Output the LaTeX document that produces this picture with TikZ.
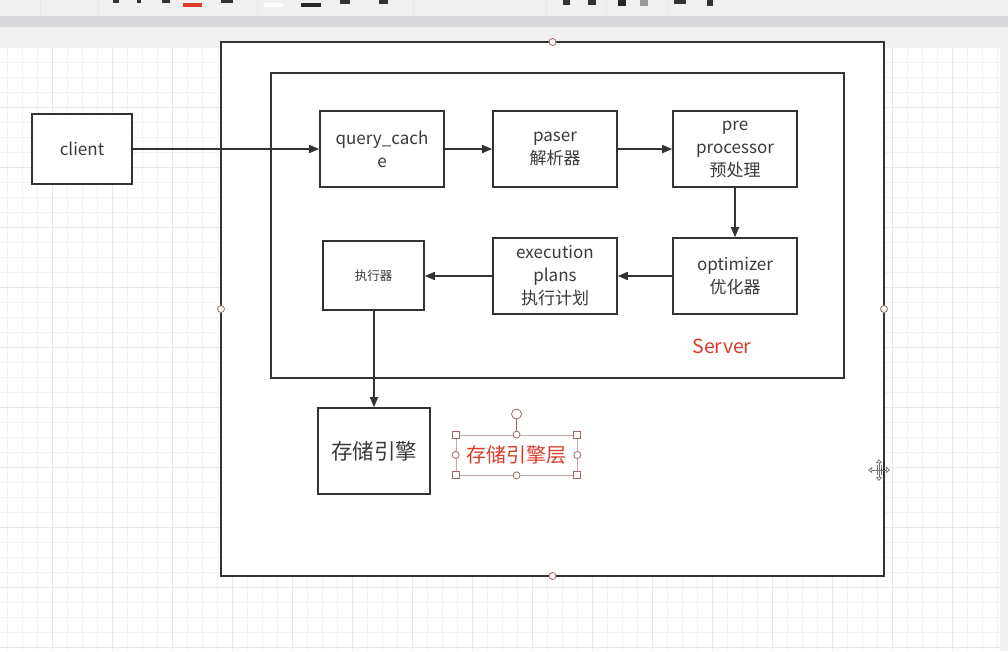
\documentclass[tikz,border=0pt]{standalone}
\usepackage{fontspec}
\setmainfont{Noto Sans CJK SC}
\usetikzlibrary{arrows.meta}
\definecolor{txt}{HTML}{3A3A3A}
\definecolor{edge}{HTML}{333333}
\definecolor{redlbl}{HTML}{DC3B2A}
\definecolor{hdl}{HTML}{9C6B64}
\definecolor{selb}{HTML}{C9A9A5}
\definecolor{gminor}{HTML}{F2F2F2}
\definecolor{gmajor}{HTML}{E7E7E7}
\definecolor{tbar}{HTML}{F0F0F0}
\definecolor{tband}{HTML}{D9D9DC}
\begin{document}
\begin{tikzpicture}[x=1pt,y=-1pt,
  box/.style={draw=edge, line width=1.6pt, fill=white, inner sep=0pt, text=txt, align=center,
    font=\fontsize{17}{23}\selectfont},
  frame/.style={draw=edge, line width=1.6pt, fill=white},
  conn/.style={draw=edge, line width=1.6pt, -{Triangle[length=10pt,width=8pt]}},
  hcirc/.style={circle, draw=hdl, fill=white, line width=0.8pt, minimum size=7pt, inner sep=0pt},
  hsq/.style={rectangle, draw=hdl, fill=white, line width=0.8pt, minimum size=7pt, inner sep=0pt}
]
\useasboundingbox (0,0) rectangle (1008,651);
% editor background
\fill[white] (0,0) rectangle (1008,651);
\fill[tbar] (0,0) rectangle (1008,16);
\fill[tband] (0,16) rectangle (1008,27);
\fill[tbar] (0,27) rectangle (1008,47);
\fill[tbar] (1000,47) rectangle (1008,651);
% toolbar bits
\foreach \sx in {40,98,257,413,546,606,668} {\draw[gmajor, line width=0.8pt] (\sx,0) -- (\sx,15);}
\fill[redlbl] (183,3) rectangle (202,7);
\fill[white] (264,3) rectangle (283,7);
\fill[black!85] (301,3) rectangle (321,7);
\fill[black!80] (113,0) rectangle (119,3);
\fill[black!80] (137,0) rectangle (141,3);
\fill[black!80] (162,0) rectangle (170,3);
\fill[black!80] (221,0) rectangle (233,3);
\fill[black!80] (340,0) rectangle (350,4);
\fill[black!80] (379,0) rectangle (388,4);
\fill[black!80] (563,0) rectangle (570,5);
\fill[black!80] (588,0) rectangle (596,5);
\fill[black!85] (618,0) rectangle (626,6);
\fill[black!40] (640,0) rectangle (648,6);
\fill[black!80] (674,0) rectangle (686,4);
\fill[black!80] (707,0) rectangle (713,6);
% grid
\foreach \k in {0,...,66} {\draw[gminor, line width=0.8pt] (7+15*\k,47) -- (7+15*\k,651);}
\foreach \k in {0,...,40} {\draw[gminor, line width=0.8pt] (0,47+15*\k) -- (1000,47+15*\k);}
\foreach \k in {0,...,15} {\draw[gmajor, line width=0.8pt] (52+60*\k,47) -- (52+60*\k,651);}
\foreach \k in {0,...,9} {\draw[gmajor, line width=0.8pt] (0,107+60*\k) -- (1000,107+60*\k);}

% frames
\draw[frame] (221,42) rectangle (884,576);
\draw[frame] (271,73) rectangle (844,378);

% nodes
\node[box, minimum width=100pt, minimum height=70pt] (client) at (82,149) {client};
\node[box, minimum width=124pt, minimum height=76pt] (qc) at (382,149) {query\_cach\\e};
\node[box, minimum width=124pt, minimum height=76pt] (paser) at (555,149) {paser\\解析器};
\node[box, minimum width=124pt, minimum height=76pt] (pre) at (735,149) {pre\\processor\\预处理};
\node[box, minimum width=124pt, minimum height=76pt] (opt) at (735,276) {optimizer\\优化器};
\node[box, minimum width=124pt, minimum height=76pt] (exe) at (555,276) {execution\\plans\\执行计划};
\node[box, minimum width=101pt, minimum height=69pt, font=\fontsize{12.5}{15}\selectfont] (zxq) at (373.5,275.5) {执行器};
\node[box, minimum width=112pt, minimum height=86pt, font=\fontsize{21.5}{25}\selectfont] (store) at (374,451) {存储引擎};
\node[text=redlbl, font=\fontsize{19.5}{23}\selectfont, inner sep=0pt] (server) at (722,346) {Server};

% connectors
\draw[conn] (client.east) -- (qc.west);
\draw[conn] (qc.east) -- (paser.west);
\draw[conn] (paser.east) -- (pre.west);
\draw[conn] (pre.south) -- (opt.north);
\draw[conn] (opt.west) -- (exe.west -| exe.east);
\draw[conn] (exe.west) -- (zxq.east |- exe.west);
\draw[conn] (zxq.south -| store.north) -- (store.north);

% selected text box
\node[draw=selb, line width=0.7pt, minimum width=121pt, minimum height=40pt, inner sep=0pt,
  text=redlbl, font=\fontsize{20}{23}\selectfont] (layer) at (516.5,455) {存储引擎层};
\coordinate (rot) at (516.5,414);
\draw[hdl, line width=0.8pt] (layer.north) -- (rot);
\node[hcirc, minimum size=10pt] (rotH) at (rot) {};
\node[hsq] (h1) at (layer.north west) {};
\node[hsq] (h2) at (layer.north east) {};
\node[hsq] (h3) at (layer.south west) {};
\node[hsq] (h4) at (layer.south east) {};
\node[hcirc] (h5) at (layer.north) {};
\node[hcirc] (h6) at (layer.south) {};
\node[hcirc] (h7) at (layer.west) {};
\node[hcirc] (h8) at (layer.east) {};

% outer frame handles
\node[hcirc] (o1) at (552.5,42) {};
\node[hcirc] (o2) at (552.5,576) {};
\node[hcirc] (o3) at (221,309) {};
\node[hcirc] (o4) at (884,309) {};

% move cursor
\coordinate (mc) at (879,470);
\draw[black!55, fill=white, line width=0.7pt, {Triangle[open,length=4pt,width=6pt]}-{Triangle[open,length=4pt,width=6pt]}] ([xshift=-11pt]mc) -- ([xshift=11pt]mc);
\draw[black!55, fill=white, line width=0.7pt, {Triangle[open,length=4pt,width=6pt]}-{Triangle[open,length=4pt,width=6pt]}] ([yshift=-11pt]mc) -- ([yshift=11pt]mc);
\draw[black!55, line width=0.6pt] ([shift={(-2,-5)}]mc) -- ([shift={(-2,5)}]mc);
\draw[black!55, line width=0.6pt] ([shift={(2,-5)}]mc) -- ([shift={(2,5)}]mc);
\end{tikzpicture}
\end{document}
